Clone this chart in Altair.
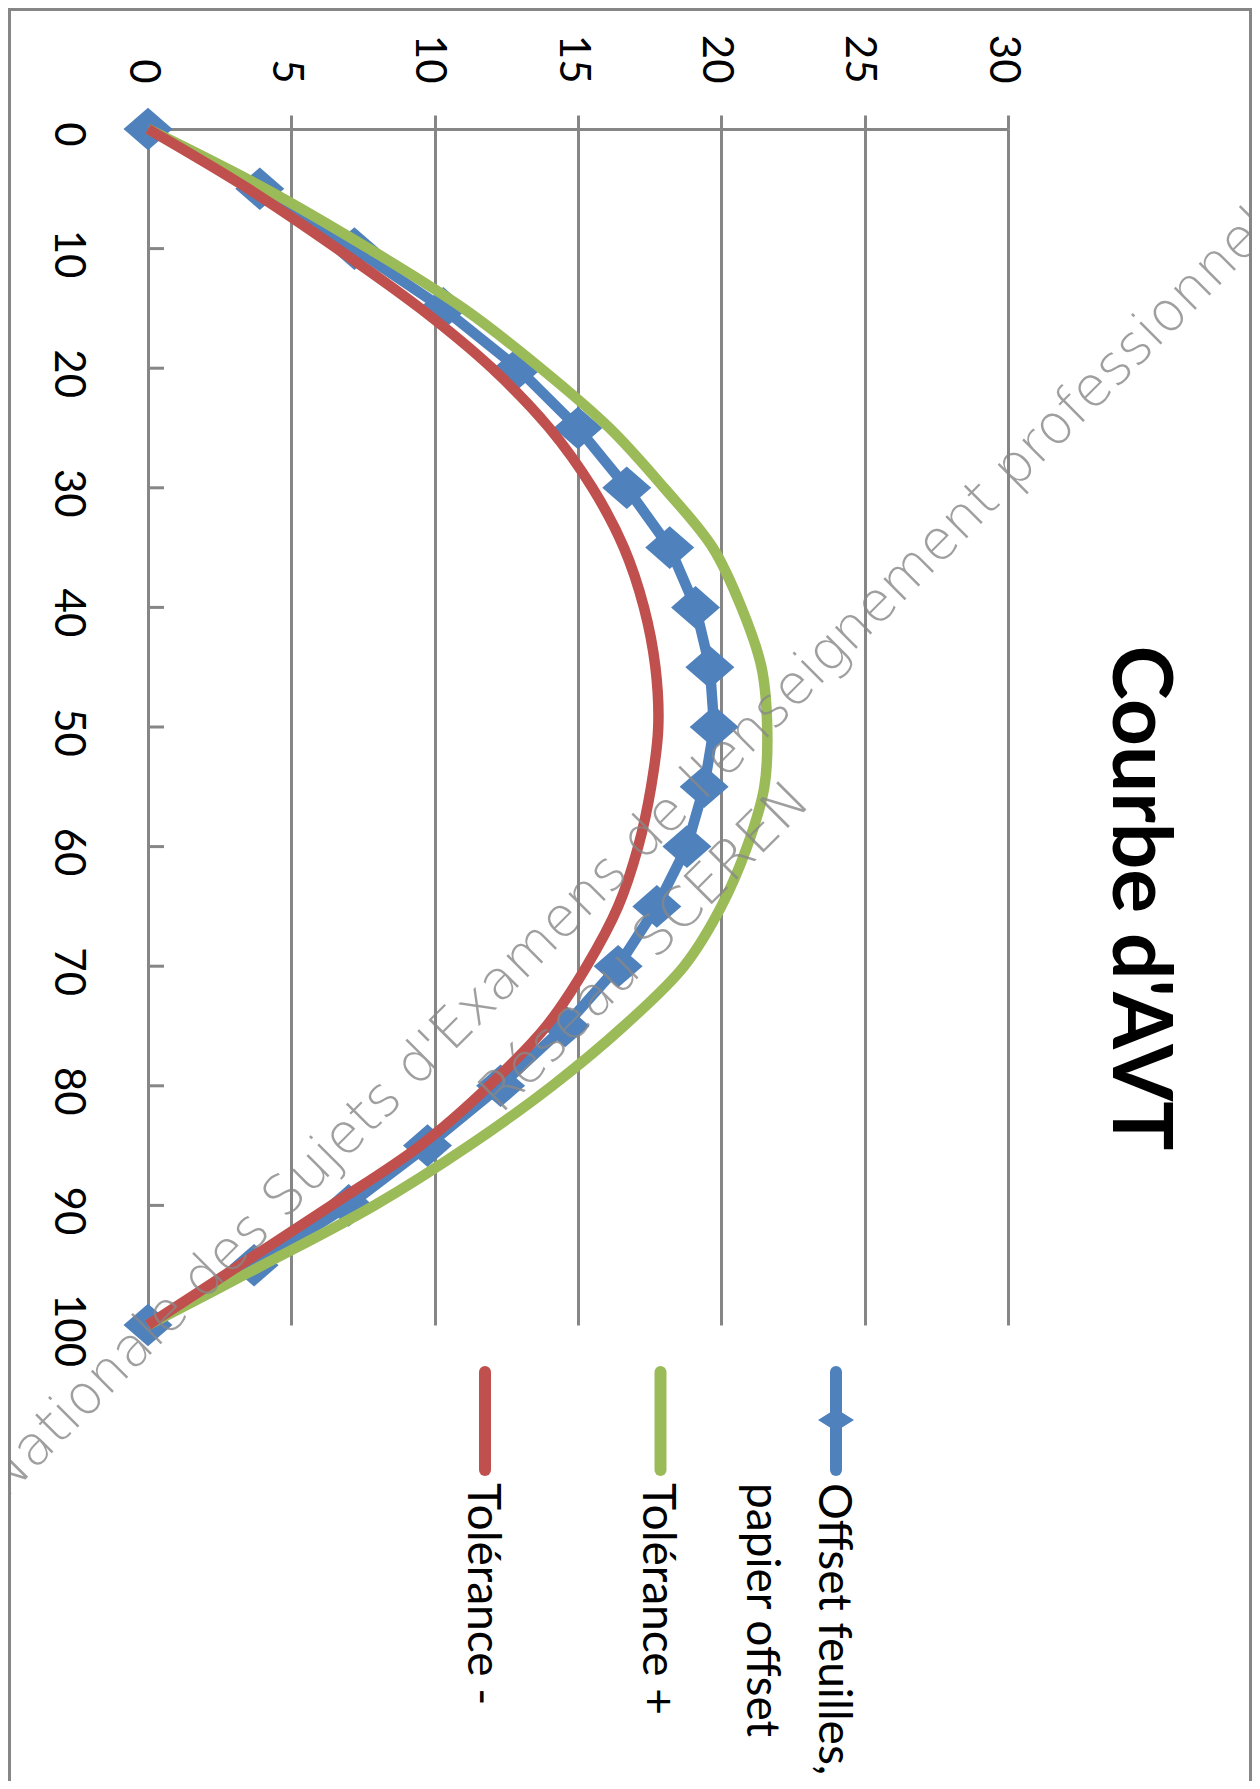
import altair as alt
import pandas as pd

TITLE = "Courbe d'AVT"
POSITIONS = [0, 5, 10, 15, 20, 25, 30, 35, 40, 45, 50, 55, 60, 65, 70, 75, 80, 85, 90, 95, 100]
OFFSET = [0, 3.9, 7.2, 10.3, 12.9, 15.0, 16.7, 18.2, 19.1, 19.6, 19.75, 19.4, 18.8, 17.75, 16.4, 14.55, 12.3, 9.75, 7.0, 3.7, 0]
TOL_PLUS = [0, 4.1, 7.7, 11.0, 13.7, 16.1, 18.0, 19.7, 20.7, 21.4, 21.6, 21.5, 20.9, 20.0, 18.7, 16.6, 14.1, 11.2, 7.9, 4.0, 0]
TOL_MINUS = [0, 3.5, 6.6, 9.5, 12.0, 14.0, 15.5, 16.6, 17.3, 17.7, 17.8, 17.55, 17.1, 16.4, 15.3, 13.9, 11.9, 9.5, 6.4, 3.2, 0]
SERIES = ["Offset feuilles, papier offset", "Tolérance +", "Tolérance -"]
LEGEND_LABELS = ["Offset feuilles,\npapier offset", "Tolérance +", "Tolérance -"]
COLORS = ["#4F81BD", "#9BBB59", "#C0504D"]
X_TICKS = [0, 5, 10, 15, 20, 25, 30]
Y_LABELS = [0, 10, 20, 30, 40, 50, 60, 70, 80, 90, 100]
Y_INNER_TICKS = [10, 20, 30, 40, 50, 60, 70, 80, 90]
WM_PREFIX = "Base "
WM_LINE1 = "Nationale des Sujets d'Examens de l'enseignement professionnel"
WM_LINE2 = "Réseau SCEREN"

GRID = "#868686"
DIAMOND = "M-1,0L0,-0.87L1,0L0,0.87Z"
LEG_DIAMOND = "M-1,0L0,-0.62L1,0L0,0.62Z"

df = pd.DataFrame({
    "series": [SERIES[0]] * len(POSITIONS) + [SERIES[1]] * len(POSITIONS) + [SERIES[2]] * len(POSITIONS),
    "pos": POSITIONS * 3,
    "val": OFFSET + TOL_PLUS + TOL_MINUS,
})

xscale = alt.Scale(domain=[0, 30], nice=False, zero=False)
yscale = alt.Scale(domain=[0, 100], reverse=True, nice=False)
cscale = alt.Scale(domain=SERIES, range=COLORS)

x_axis = alt.Axis(orient="top", values=X_TICKS, labelAngle=90, labelAlign="right",
                  labelBaseline="middle", labelFont="Lato", labelFontSize=42,
                  labelColor="#000000", labelPadding=32, labelOffset=-6,
                  labelFlush=False, labelOverlap=False, labelBound=False,
                  tickSize=14, tickWidth=3, tickColor=GRID,
                  domainColor=GRID, domainWidth=3,
                  grid=True, gridColor=GRID, gridWidth=3, title=None)
y_axis = alt.Axis(orient="left", values=Y_LABELS, labelAngle=90, labelAlign="center",
                  labelBaseline="top", labelFont="Lato", labelFontSize=42,
                  labelColor="#000000", labelPadding=61, labelOffset=5,
                  labelFlush=False, labelOverlap=False, labelBound=False,
                  ticks=False, tickSize=0, domain=False, grid=False, title=None)

x_enc = alt.X("val:Q", scale=xscale, axis=x_axis)
y_enc = alt.Y("pos:Q", scale=yscale, axis=y_axis)
c_enc = alt.Color("series:N", scale=cscale, legend=None)

base = alt.Chart(df).encode(x=x_enc, y=y_enc, color=c_enc, order=alt.Order("pos:Q"))

blue_line = base.transform_filter(alt.datum.series == SERIES[0]).mark_line(strokeWidth=10.5)
blue_pts = base.transform_filter(alt.datum.series == SERIES[0]).mark_point(
    shape=DIAMOND, filled=True, size=2400, opacity=1)
green_line = base.transform_filter(alt.datum.series == SERIES[1]).mark_line(
    strokeWidth=10.5, interpolate="catmull-rom")
red_line = base.transform_filter(alt.datum.series == SERIES[2]).mark_line(
    strokeWidth=10.5, interpolate="catmull-rom")

ticks = alt.Chart(pd.DataFrame({"pos": Y_INNER_TICKS})).mark_rule(
    color=GRID, strokeWidth=3).encode(y=y_enc, x=alt.value(0), x2=alt.value(16))

data_layer = alt.layer(ticks, blue_line, blue_pts, green_line, red_line)

# legend (drawn by hand, rotated like the rest of the chart)
leg_df = pd.DataFrame({"series": SERIES, "label": LEGEND_LABELS})
lx = alt.X("series:N", scale=alt.Scale(type="point", domain=SERIES, range=[688, 337], padding=0), axis=None)
leg_rules = alt.Chart(leg_df).mark_rule(strokeWidth=12, strokeCap="round").encode(
    x=lx, y=alt.value(1243), y2=alt.value(1341), color=c_enc)
leg_diamond = alt.Chart(leg_df).transform_filter(alt.datum.series == SERIES[0]).mark_point(
    shape=LEG_DIAMOND, filled=True, size=1300, opacity=1).encode(
    x=lx, y=alt.value(1291), color=c_enc)
leg_text = alt.Chart(leg_df).mark_text(
    angle=90, align="left", baseline="top", dy=-18.5, font="Lato", fontSize=46,
    lineBreak="\n", lineHeight=72, color="#000000").encode(
    x=lx, y=alt.value(1354), text="label:N")
legend_layer = alt.layer(leg_rules, leg_diamond, leg_text)

title = alt.Chart(pd.DataFrame({"t": [TITLE]})).mark_text(
    angle=90, align="center", baseline="middle", font="Lato", fontWeight="bold",
    fontSize=82, color="#000000").encode(text="t:N", x=alt.value(990), y=alt.value(769))

border = alt.Chart(pd.DataFrame({"a": [0]})).mark_rect(
    fillOpacity=0, stroke=GRID, strokeWidth=3).encode(
    x=alt.value(-138.5), x2=alt.value(1102.5), y=alt.value(-119.5), y2=alt.value(1700))

wm_style = dict(angle=315, baseline="alphabetic", font="DejaVu Sans", fontSize=55,
                fontWeight=200, color="#888888", opacity=0.8)
wm0 = alt.Chart(pd.DataFrame({"t": [WM_PREFIX]})).mark_text(align="right", **wm_style).encode(
    text="t:N", x=alt.value(-143), y=alt.value(1371))
wm1 = alt.Chart(pd.DataFrame({"t": [WM_LINE1]})).mark_text(align="left", **wm_style).encode(
    text="t:N", x=alt.value(-143), y=alt.value(1371))
wm2 = alt.Chart(pd.DataFrame({"t": [WM_LINE2]})).mark_text(align="left", **wm_style).encode(
    text="t:N", x=alt.value(353), y=alt.value(986))

chart = alt.layer(border, data_layer, legend_layer, title, wm0, wm1, wm2).resolve_scale(
    x="independent"
).properties(
    width=860, height=1196,
    autosize=alt.AutoSizeParams(type="none"),
    padding={"left": 140, "top": 121, "right": 244, "bottom": 456},
).configure_view(strokeWidth=0)

chart.save("out.html", embed_options={"renderer": "svg", "actions": False})
